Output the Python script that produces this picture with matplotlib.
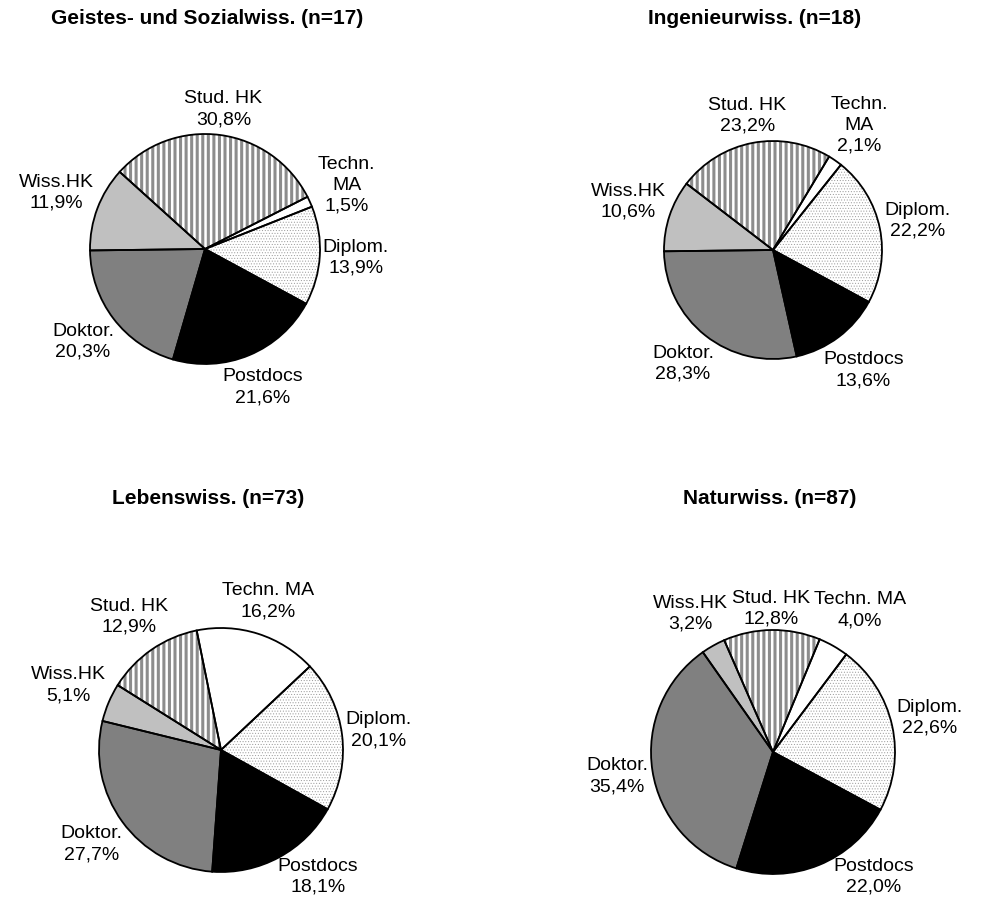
import numpy as np
import matplotlib
matplotlib.use("Agg")
import matplotlib.pyplot as plt
from matplotlib.patches import Wedge

plt.rcParams["font.family"] = ["Liberation Sans", "DejaVu Sans"]

# Data (shares in %), clockwise order of the slices
categories = ["Techn. MA", "Diplom.", "Postdocs", "Doktor.", "Wiss.HK", "Stud. HK"]
titles = ["Geistes- und Sozialwiss. (n=17)", "Ingenieurwiss. (n=18)",
          "Lebenswiss. (n=73)", "Naturwiss. (n=87)"]
geistes = [1.5, 13.9, 21.6, 20.3, 11.9, 30.8]
ingenieur = [2.1, 22.2, 13.6, 28.3, 10.6, 23.2]
lebens = [16.2, 20.1, 18.1, 27.7, 5.1, 12.9]
natur = [4.0, 22.6, 22.0, 35.4, 3.2, 12.8]
all_values = [geistes, ingenieur, lebens, natur]

# slice styles
faces = ["white", "white", "black", "#808080", "#c0c0c0", "white"]
hatches = [None, "......", None, None, None, "|||"]
hatch_colors = [None, "#9a9a9a", None, None, None, "#8c8c8c"]
hatch_lws = [None, 0.4, None, None, None, 2.2]

# layout: pie centre (px from left, px from top), radius px, start angle, title pos
W, H = 982, 901
centers = [(205, 249), (773, 250), (221, 750), (773, 752)]
radii = [115, 109, 122, 122]
start_angles = [27, 59, 101.5, 67.5]
title_pos = [(207, 18), (755, 18), (208, 499), (770, 499)]
wrap_techn = [True, True, False, False]

fig = plt.figure(figsize=(W / 100, H / 100), dpi=100)
renderer = fig.canvas.get_renderer()
L = 1.9
bottom_margin = 5

for i, vals in enumerate(all_values):
    cx, cy = centers[i]
    r = radii[i]
    S = 2 * L * r
    ax = fig.add_axes([(cx - S / 2) / W, (H - cy - S / 2) / H, S / W, S / H])

    wedges, _ = ax.pie(vals, startangle=start_angles[i], counterclock=False,
                       colors=faces, radius=1.0,
                       wedgeprops=dict(linewidth=0))
    ax.set_xlim(-L, L)
    ax.set_ylim(-L, L)
    ax.set_aspect("equal")
    ax.axis("off")

    for k, w in enumerate(wedges):
        if hatches[k]:
            with plt.rc_context({"hatch.linewidth": hatch_lws[k]}):
                hp = Wedge(w.center, w.r, w.theta1, w.theta2, facecolor="none",
                           edgecolor=hatch_colors[k], linewidth=0, hatch=hatches[k])
                if hasattr(hp, "set_hatch_linewidth"):
                    hp.set_hatch_linewidth(hatch_lws[k])
                ax.add_patch(hp)
        ax.add_patch(Wedge(w.center, w.r, w.theta1, w.theta2, fill=False,
                           edgecolor="black", linewidth=1.3, zorder=3))

    # labels outside the pie (positions in px relative to the pie centre)
    labels = []
    for k, w in enumerate(wedges):
        name = categories[k]
        if k == 0 and wrap_techn[i]:
            name = "Techn.\nMA"
        pct = ("%.1f%%" % vals[k]).replace(".", ",")
        t = ax.text(0, 0, name + "\n" + pct, ha="center", va="center",
                    fontsize=14, linespacing=1.3)
        bb = t.get_window_extent(renderer)
        bw, bh = bb.width, bb.height
        th = np.deg2rad((w.theta1 + w.theta2) / 2)
        d_px = r + 2 + 0.5 * (bw * abs(np.cos(th)) + bh * abs(np.sin(th)))
        x_px, y_px = d_px * np.cos(th), d_px * np.sin(th)
        # keep the label inside the figure: lift it and push it sideways
        lim = (H - cy) - bottom_margin - bh / 2
        if -y_px > lim:
            y_px = -lim
            dy = abs(y_px) - bh / 2
            rr = r
            dx = np.sqrt(max(rr ** 2 - dy ** 2, 0))
            x_px = np.sign(np.cos(th)) * (dx + bw / 2)
        labels.append([t, x_px, y_px, bw, bh])

    # push overlapping labels apart sideways
    for it in range(30):
        moved = False
        for a in range(len(labels)):
            for b in range(a + 1, len(labels)):
                la, lb = labels[a], labels[b]
                ox = (la[3] + lb[3]) / 2 + 4 - abs(la[1] - lb[1])
                oy = (la[4] + lb[4]) / 2 - abs(la[2] - lb[2])
                if ox > 0 and oy > 0:
                    s = 1 if la[1] >= lb[1] else -1
                    la[1] += s * ox / 2
                    lb[1] -= s * ox / 2
                    moved = True
        if not moved:
            break

    for t, x_px, y_px, bw, bh in labels:
        t.set_position((x_px / r, y_px / r))

    tx, ty = title_pos[i]
    fig.text(tx / W, 1 - ty / H, titles[i], ha="center", va="center",
             fontsize=15, fontweight="bold")

fig.savefig("out.png", dpi=100)
